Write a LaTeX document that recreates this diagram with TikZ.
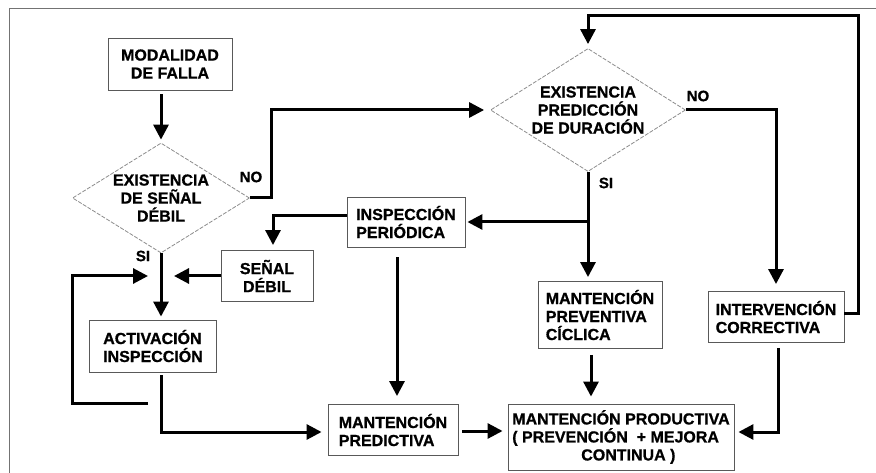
\documentclass[tikz,border=0pt]{standalone}
\usepackage{fontspec}
\setmainfont{Liberation Sans}[FakeBold=0.9]
\usetikzlibrary{arrows.meta,shapes.geometric,calc}

\tikzset{
  box/.style={draw=black!65, line width=0.9pt, rectangle, inner sep=0pt,
    align=left, font=\fontsize{16}{18}\selectfont\bfseries},
  decision/.style={draw=black!45, line width=0.8pt, dash pattern=on 4pt off 1.5pt,
    diamond, aspect=1.6, inner sep=0pt, align=center,
    font=\fontsize{16}{18}\selectfont\bfseries},
  arr/.style={line width=3pt, -{Triangle[length=15pt,width=15pt]}},
  lbl/.style={font=\fontsize{15}{16}\selectfont\bfseries, inner sep=0pt},
}

\begin{document}
\begin{tikzpicture}[x=1pt, y=-1pt]
\useasboundingbox (0,0) rectangle (876,473);

% page frame
\draw[black!55, line width=1pt] (9,473) -- (9,9) -- (876,9);

% boxes
\node[box, minimum width=124pt, minimum height=52pt, align=center] (mf) at (170,64)
  {MODALIDAD\\DE FALLA};
\node[decision, minimum width=177pt, minimum height=110pt] (d1) at (161,198)
  {EXISTENCIA\\DE SEÑAL\\DÉBIL};
\node[decision, minimum width=195pt, minimum height=123pt] (d2) at (588,110)
  {EXISTENCIA\\PREDICCIÓN\\DE DURACIÓN};
\node[box, minimum width=118pt, minimum height=50pt] (ip) at (406,222)
  {INSPECCIÓN\\PERIÓDICA};
\node[box, minimum width=92pt, minimum height=51pt, align=center] (sd) at (267,276)
  {SEÑAL\\DÉBIL};
\node[box, minimum width=127pt, minimum height=52pt] (ai) at (153,346)
  {ACTIVACIÓN\\INSPECCIÓN};
\node[box, minimum width=124pt, minimum height=67pt] (mpc) at (600,315)
  {MANTENCIÓN\\PREVENTIVA\\CÍCLICA};
\node[box, minimum width=136pt, minimum height=51pt] (ic) at (776,317)
  {INTERVENCIÓN\\CORRECTIVA};
\node[box, minimum width=130pt, minimum height=51pt] (mpd) at (393,430)
  {MANTENCIÓN\\PREDICTIVA};
\node[box, minimum width=226pt, minimum height=66pt] (mp) at (621,437)
  {MANTENCIÓN PRODUCTIVA\\( PREVENCIÓN \ + MEJORA\\\hspace*{69pt}CONTINUA )};

% branch labels
\node[lbl] (no1) at (251,177) {NO};
\node[lbl] (si1) at (143,256) {SI};
\node[lbl] (no2) at (698,96) {NO};
\node[lbl] (si2) at (606,183) {SI};

% auxiliary points
\coordinate (loopstart) at (148,403);
\coordinate (join) at (d1.south |- sd.west);

% connectors
\draw[arr, shorten <=4pt, shorten >=3pt] (d1.north |- mf.south) -- (d1.north);
\draw[arr, shorten >=6pt] (d1.east) -- ++(22,0) |- (d2.west);
\draw[arr, shorten >=7pt] (d2.east) -| (ic.north);
\draw[arr, shorten >=4pt] ([yshift=4pt]ic.east) -- ++(14,0) |- ([yshift=33pt]d2.north) -- (d2.north);
\draw[arr, shorten >=4pt] (d2.south) -- (d2.south |- mpc.north);
\draw[arr, shorten >=2pt] (d2.south |- ip.east) -- (ip.east);
\draw[arr, shorten >=5pt] ([yshift=6pt]ip.west) -| ([xshift=6pt]sd.north);
\draw[arr, shorten >=13pt] (sd.west) -- (join);
\draw[arr, shorten >=3pt] (d1.south) -- (d1.south |- ai.north);
\draw[arr] (loopstart) -- ++(-76,0) |- ([xshift=-13pt]join);
\draw[arr, shorten <=3pt, shorten >=6pt] (d1.south |- ai.south) |- ([yshift=-2pt]mpd.west);
\draw[arr, shorten <=10pt, shorten >=8pt] ([xshift=-9pt]ip.south) -- ([xshift=-9pt]ip.south |- mpd.north);
\draw[arr, shorten <=4pt, shorten >=5pt] ([yshift=-1pt]mpd.east) -- ([yshift=6pt]mp.west);
\draw[arr, shorten <=6pt, shorten >=7pt] ([xshift=-9pt]mpc.south) -- ([xshift=-9pt]mpc.south |- mp.north);
\draw[arr, shorten <=5pt, shorten >=4pt] ([xshift=2pt]ic.south) |- ([yshift=5pt]mp.east);
\end{tikzpicture}
\end{document}
